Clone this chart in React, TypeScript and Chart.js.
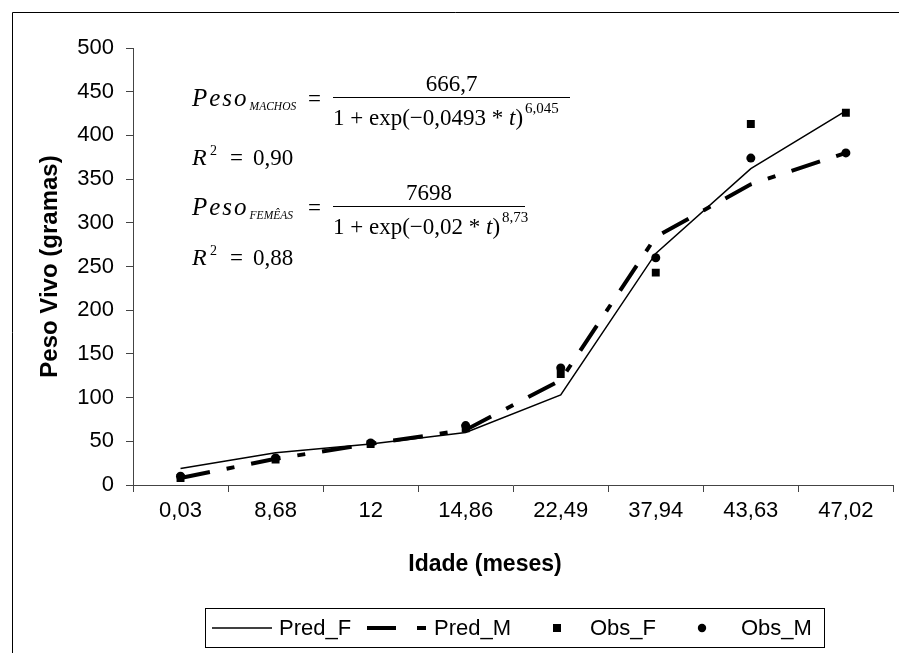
import React, { useEffect, useRef } from 'react';
import { Chart, registerables } from 'chart.js';

Chart.register(...registerables);

// ---- data ----
const ageLabels = ['0,03', '8,68', '12', '14,86', '22,49', '37,94', '43,63', '47,02'];
const predF = [19, 37, 47, 60, 103, 265, 362, 428];
const predM = [8, 30, 47, 63, 120, 284, 344, 380];
const obsF = [8, 29, 47, 65, 127, 243, 413, 426];
const obsM = [10, 31, 48, 68, 134, 260, 374, 380];
const seriesNames = ['Pred_F', 'Pred_M', 'Obs_F', 'Obs_M'];
const yMin = 0;
const yMax = 500;
const yStep = 50;
const yTitle = 'Peso Vivo (gramas)';
const xTitle = 'Idade (meses)';
const eqMachos = { sub: 'MACHOS', num: '666,7', den: '1 + exp(\u22120,0493 * ', exp: '6,045', r2: '0,90' };
const eqFemeas = { sub: 'FEM\u00CAAS', num: '7698', den: '1 + exp(\u22120,02 * ', exp: '8,73', r2: '0,88' };

const SANS = '"Liberation Sans", Arial, sans-serif';
const SERIF = '"Liberation Serif", "Times New Roman", serif';
const DASH = [30, 17, 8, 17];

function spacedText(ctx: CanvasRenderingContext2D, text: string, x: number, y: number, gap: number) {
  let cx = x;
  for (const ch of text) {
    ctx.fillText(ch, cx, y);
    cx += ctx.measureText(ch).width + gap;
  }
  return cx - gap;
}

function drawEquation(ctx: CanvasRenderingContext2D, eq: any, baseY: number, barRight: number) {
  const x0 = 192;
  ctx.fillStyle = '#000';
  ctx.textBaseline = 'alphabetic';
  ctx.textAlign = 'left';
  ctx.font = 'italic 25px ' + SERIF;
  const pe = spacedText(ctx, 'Peso', x0, baseY, 2);
  ctx.font = 'italic 11.5px ' + SERIF;
  ctx.fillText(eq.sub, pe + 3, baseY + 4);
  ctx.font = '23px ' + SERIF;
  ctx.fillText('=', 308, baseY);
  const barL = 333;
  // fraction bar
  ctx.strokeStyle = '#000';
  ctx.lineWidth = 1.2;
  ctx.beginPath();
  ctx.moveTo(barL, baseY - 8.5);
  ctx.lineTo(barRight, baseY - 8.5);
  ctx.stroke();
  // numerator
  ctx.textAlign = 'center';
  ctx.fillText(eq.num, (barL + barRight) / 2, baseY - 15);
  // denominator
  ctx.textAlign = 'left';
  const dy = baseY + 19;
  ctx.fillText(eq.den, barL, dy);
  let dx = barL + ctx.measureText(eq.den).width;
  ctx.font = 'italic 23px ' + SERIF;
  ctx.fillText('t', dx, dy);
  dx += ctx.measureText('t').width;
  ctx.font = '23px ' + SERIF;
  ctx.fillText(')', dx, dy);
  dx += ctx.measureText(')').width;
  ctx.font = '15px ' + SERIF;
  ctx.fillText(eq.exp, dx + 2, dy - 12);
}

function drawR2(ctx: CanvasRenderingContext2D, r2: string, baseY: number) {
  ctx.textAlign = 'left';
  ctx.textBaseline = 'alphabetic';
  ctx.fillStyle = '#000';
  ctx.font = 'italic 24px ' + SERIF;
  ctx.fillText('R', 192, baseY);
  ctx.font = '14px ' + SERIF;
  ctx.fillText('2', 210, baseY - 10);
  ctx.font = '23px ' + SERIF;
  ctx.fillText('=', 230, baseY);
  ctx.fillText(r2, 253, baseY);
}

const overlayPlugin = {
  id: 'overlay',
  afterDraw(chart: any) {
    const ctx: CanvasRenderingContext2D = chart.ctx;
    ctx.save();
    // outer frame (left + top)
    ctx.strokeStyle = '#000';
    ctx.lineWidth = 1;
    ctx.beginPath();
    ctx.moveTo(12.5, 653);
    ctx.lineTo(12.5, 12.5);
    ctx.lineTo(899, 12.5);
    ctx.stroke();

    // equations
    drawEquation(ctx, eqMachos, 106, 570);
    drawR2(ctx, eqMachos.r2, 165);
    drawEquation(ctx, eqFemeas, 215, 525);
    drawR2(ctx, eqFemeas.r2, 265);

    // x title
    ctx.fillStyle = '#000';
    ctx.font = 'bold 23px ' + SANS;
    ctx.textAlign = 'center';
    ctx.textBaseline = 'middle';
    ctx.fillText(xTitle, 485, 565);

    // legend
    const bx = 205, by = 608, bw = 619, bh = 39;
    const ly = by + bh / 2 + 0.5;
    ctx.strokeStyle = '#000';
    ctx.lineWidth = 1;
    ctx.strokeRect(bx + 0.5, by + 0.5, bw, bh);
    ctx.font = '22px ' + SANS;
    ctx.textAlign = 'left';
    ctx.textBaseline = 'middle';
    // Pred_F
    ctx.lineWidth = 1.4;
    ctx.beginPath();
    ctx.moveTo(212, ly);
    ctx.lineTo(272, ly);
    ctx.stroke();
    ctx.fillText(seriesNames[0], 279, ly + 1);
    // Pred_M
    ctx.lineWidth = 4;
    ctx.beginPath();
    ctx.moveTo(367, ly);
    ctx.lineTo(396, ly);
    ctx.moveTo(417, ly);
    ctx.lineTo(426, ly);
    ctx.stroke();
    ctx.fillText(seriesNames[1], 434, ly + 1);
    // Obs_F
    ctx.fillRect(553, ly - 4, 8, 8);
    ctx.fillText(seriesNames[2], 590, ly + 1);
    // Obs_M
    ctx.beginPath();
    ctx.arc(702, ly, 4.2, 0, Math.PI * 2);
    ctx.fill();
    ctx.fillText(seriesNames[3], 741, ly + 1);
    ctx.restore();
  },
};

export default function App() {
  const ref = useRef<HTMLCanvasElement | null>(null);

  useEffect(() => {
    if (!ref.current) return;
    const chart = new Chart(ref.current, {
      type: 'line',
      data: {
        labels: ageLabels,
        datasets: [
          {
            label: seriesNames[0],
            data: predF,
            borderColor: '#000',
            borderWidth: 1.5,
            pointRadius: 0,
            fill: false,
            tension: 0,
          },
          {
            label: seriesNames[1],
            data: predM,
            borderColor: '#000',
            borderWidth: 4,
            borderDash: DASH,
            pointRadius: 0,
            fill: false,
            tension: 0,
          },
          {
            label: seriesNames[2],
            data: obsF,
            showLine: false,
            pointStyle: 'rect',
            pointRadius: 5.6,
            pointBackgroundColor: '#000',
            pointBorderColor: '#000',
            pointBorderWidth: 0,
          },
          {
            label: seriesNames[3],
            data: obsM,
            showLine: false,
            pointStyle: 'circle',
            pointRadius: 4.5,
            pointBackgroundColor: '#000',
            pointBorderColor: '#000',
            pointBorderWidth: 0,
          },
        ],
      },
      options: {
        responsive: false,
        animation: false,
        devicePixelRatio: 1,
        layout: { padding: { left: 0, top: 48, right: 2, bottom: 0 } },
        plugins: {
          legend: { display: false },
          tooltip: { enabled: false },
          title: { display: false },
        },
        scales: {
          x: {
            type: 'category',
            offset: true,
            grid: {
              display: true,
              offset: true,
              drawOnChartArea: false,
              drawTicks: true,
              tickLength: 7,
              color: '#444',
            },
            border: { display: true, color: '#444', width: 1 },
            ticks: {
              color: '#000',
              font: { family: SANS, size: 22 },
              padding: 6,
              maxRotation: 0,
              autoSkip: false,
            },
            title: { display: false, text: xTitle },
            afterFit: (scale: any) => {
              scale.height = 168;
            },
          },
          y: {
            min: yMin,
            max: yMax,
            grid: {
              display: true,
              drawOnChartArea: false,
              drawTicks: true,
              tickLength: 7,
              color: '#444',
            },
            border: { display: true, color: '#444', width: 1 },
            ticks: {
              stepSize: yStep,
              color: '#000',
              font: { family: SANS, size: 22 },
              padding: 12,
            },
            title: {
              display: true,
              text: yTitle,
              color: '#000',
              font: { family: SANS, size: 24, weight: 'bold' },
              padding: { top: 36, bottom: 0 },
            },
            afterFit: (scale: any) => {
              scale.width = 133;
            },
          },
        },
      },
      plugins: [overlayPlugin],
    });
    return () => chart.destroy();
  }, []);

  return (
    <div style={{ position: 'absolute', left: 0, top: 0, width: 899, height: 653, background: '#fff' }}>
      <canvas ref={ref} width={899} height={653} style={{ width: 899, height: 653, display: 'block' }} />
    </div>
  );
}
